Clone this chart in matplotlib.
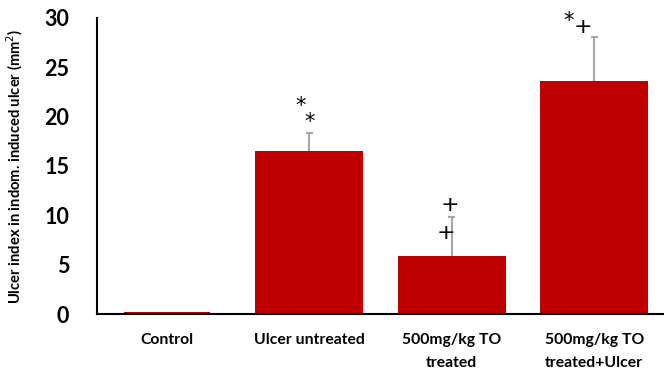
import matplotlib
matplotlib.use("Agg")
import matplotlib.pyplot as plt

categories = ["Control", "Ulcer untreated", "500mg/kg TO\ntreated", "500mg/kg TO\ntreated+Ulcer"]
values = [0.25, 16.5, 5.9, 23.6]
errors = [0.0, 1.8, 3.9, 4.5]
y_ticks = [0, 5, 10, 15, 20, 25, 30]

plt.rcParams['font.family'] = ['Lato', 'DejaVu Sans']
fig = plt.figure(figsize=(6.64, 3.71), dpi=100)
ax = fig.add_axes([0.146, 0.1536, 0.854, 0.798])
x = list(range(len(categories)))
ax.bar(x, values, width=[0.6, 0.76, 0.76, 0.76], color='#C00000', zorder=2)
tops = [v + e for v, e in zip(values, errors)]
ax.vlines([xi for xi, e in zip(x, errors) if e > 0],
          [v for v, e in zip(values, errors) if e > 0],
          [t for t, e in zip(tops, errors) if e > 0],
          color='#A6A6A6', linewidth=1.5, zorder=3)
ax.hlines([t for t, e in zip(tops, errors) if e > 0],
          [xi - 0.025 for xi, e in zip(x, errors) if e > 0],
          [xi + 0.025 for xi, e in zip(x, errors) if e > 0],
          color='#A6A6A6', linewidth=1.5, zorder=3)
ax.set_xlim(-0.49, 3.49)
ax.set_ylim(0, 30)
ax.set_yticks(y_ticks)
ax.set_yticklabels([str(t) for t in y_ticks], fontsize=15.5, fontweight='bold')
ax.set_xticks(x)
ax.set_xticklabels(categories, fontsize=11.3, fontweight='bold', linespacing=1.75, va='top')
ax.tick_params(length=0, pad=20, axis='y')
ax.tick_params(length=0, pad=14, axis='x')
for s in ['top', 'right']:
    ax.spines[s].set_visible(False)
ax.spines['left'].set_linewidth(1.5)
ax.spines['bottom'].set_linewidth(1.5)
ax.set_ylabel("Ulcer index in indom. induced ulcer (mm$^2$)", fontsize=10.6, fontweight='bold', labelpad=14)

# significance markers
mk = dict(family='DejaVu Sans', ha='center', va='center', color='black')
ax.text(0.94, 21.1, "*", fontsize=15, **mk)
ax.text(1.0, 19.5, "*", fontsize=15, **mk)
ax.text(1.99, 11.0, "+", fontsize=16, **mk)
ax.text(1.96, 8.2, "+", fontsize=16, **mk)
ax.text(2.82, 29.7, "*", fontsize=15, **mk)
ax.text(2.92, 29.1, "+", fontsize=16, **mk)

fig.savefig("out.png", dpi=100)
